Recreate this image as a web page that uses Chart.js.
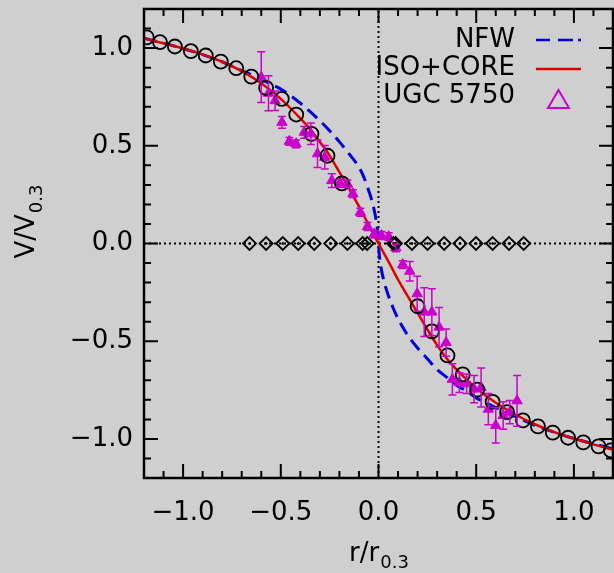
<!DOCTYPE html>
<html>
<head>
<meta charset="utf-8">
<script src="https://cdn.jsdelivr.net/npm/chart.js@4.4.1/dist/chart.umd.min.js"></script>
<style>
html, body { margin: 0; padding: 0; background: #cfcfcf; }
canvas { display: block; }
</style>
</head>
<body>
<canvas id="rotCurve" width="614" height="573"></canvas>
<script>
// ISO+CORE model (red)
var isoX = [-1.2, -1.1, -1.0, -0.9, -0.8, -0.7, -0.6, -0.5, -0.4, -0.35, -0.3, -0.25, -0.2, -0.15, -0.1, -0.05, 0,
            0.05, 0.1, 0.15, 0.2, 0.25, 0.3, 0.35, 0.4, 0.5, 0.6, 0.7, 0.8, 0.9, 1.0, 1.1, 1.2];
var isoY = [1.05, 1.025, 0.998, 0.968, 0.93, 0.882, 0.82, 0.74, 0.64, 0.585, 0.52, 0.45, 0.365, 0.28, 0.19, 0.095, 0,
            -0.09, -0.185, -0.27, -0.355, -0.44, -0.52, -0.59, -0.645, -0.74, -0.815, -0.875, -0.925, -0.965, -0.998, -1.028, -1.055];

// NFW model (blue dashed)
var nfwX = [-1.2, -1.0, -0.8, -0.7, -0.6, -0.55, -0.5, -0.45, -0.4, -0.35, -0.3, -0.25, -0.2, -0.15, -0.1, -0.075, -0.05, -0.03, -0.015, -0.005, 0,
            0.005, 0.015, 0.03, 0.05, 0.075, 0.1, 0.15, 0.2, 0.25, 0.3, 0.35, 0.4, 0.45, 0.5, 0.55, 0.6, 0.7, 0.8, 1.0, 1.2];
var nfwY = [1.05, 0.998, 0.93, 0.885, 0.84, 0.815, 0.79, 0.757, 0.718, 0.675, 0.628, 0.577, 0.52, 0.458, 0.39, 0.34, 0.27, 0.205, 0.135, 0.065, 0,
            -0.07, -0.135, -0.2, -0.265, -0.33, -0.385, -0.47, -0.535, -0.59, -0.645, -0.685, -0.725, -0.755, -0.79, -0.815, -0.84, -0.885, -0.93, -0.998, -1.05];

// model points (open circles)
var circX = [-1.186, -1.118, -1.042, -0.960, -0.884, -0.807, -0.728, -0.651, -0.575, -0.495, -0.421, -0.343, -0.261, -0.187,
             0.200, 0.273, 0.353, 0.431, 0.505, 0.584, 0.658, 0.739, 0.816, 0.892, 0.970, 1.048, 1.126, 1.189];
var circY = [1.055, 1.030, 1.008, 0.984, 0.962, 0.931, 0.897, 0.854, 0.796, 0.740, 0.660, 0.561, 0.449, 0.308,
             -0.321, -0.450, -0.573, -0.670, -0.748, -0.810, -0.863, -0.905, -0.936, -0.968, -0.994, -1.018, -1.038, -1.059];

// UGC 5750 data (triangles) and errors
var ugcX = [-0.600, -0.563, -0.529, -0.494, -0.456, -0.422, -0.380, -0.346, -0.312, -0.275, -0.239, -0.197, -0.159, -0.131,
            -0.093, -0.056, -0.022, 0.015, 0.052, 0.089, 0.124, 0.160, 0.198, 0.234, 0.273, 0.310, 0.346, 0.378,
            0.414, 0.451, 0.489, 0.525, 0.562, 0.600, 0.638, 0.672, 0.709];
var ugcY = [0.851, 0.769, 0.731, 0.620, 0.523, 0.510, 0.569, 0.561, 0.459, 0.441, 0.322, 0.308, 0.305, 0.255,
            0.160, 0.087, 0.048, 0.041, 0.035, -0.022, -0.108, -0.142, -0.257, -0.351, -0.351, -0.428, -0.507, -0.695,
            -0.712, -0.718, -0.745, -0.737, -0.848, -0.931, -0.880, -0.863, -0.805];
var ugcErr = [0.13, 0.09, 0.05, 0.03, 0.02, 0.02, 0.03, 0.055, 0.07, 0.06, 0.035, 0.02, 0.02, 0.02,
              0.02, 0.02, 0.02, 0.02, 0.02, 0.02, 0.02, 0.05, 0.09, 0.125, 0.12, 0.10, 0.07, 0.08,
              0.05, 0.05, 0.07, 0.10, 0.08, 0.09, 0.07, 0.06, 0.13];

// residual markers along zero (diamonds)
var diaX = [-0.660, -0.575, -0.490, -0.411, -0.329, -0.244, -0.159, -0.081, -0.058, 0.076, 0.087,
            0.171, 0.251, 0.336, 0.417, 0.499, 0.584, 0.668, 0.743];

var xTicks = [-1.0, -0.5, 0.0, 0.5, 1.0];
var yTicks = [-1.0, -0.5, 0.0, 0.5, 1.0];
var minorStep = 0.1;

var MAG = '#cc00cc';
var FONT = '"DejaVu Sans", sans-serif';

function pts(xs, ys) {
	return xs.map(function(x, i) { return { x: x, y: ys[i] }; });
}

function fmt(v) {
	return v.toFixed(1).replace('-', '\u2212');
}

function noPad(s) {
	s.paddingLeft = 0; s.paddingRight = 0; s.paddingTop = 0; s.paddingBottom = 0;
}

var idlFrame = {
	id: 'idlFrame',
	afterDraw: function(chart) {
		var ctx = chart.ctx, a = chart.chartArea;
		var xs = chart.scales.x, ys = chart.scales.y;
		ctx.save();
		ctx.strokeStyle = '#000';
		ctx.lineWidth = 2;
		// inward ticks on all four sides
		for (var i = -12; i <= 12; i++) {
			var v = i * minorStep;
			var len = (i % 5 === 0) ? 14 : 7;
			var px = xs.getPixelForValue(v);
			var py = ys.getPixelForValue(v);
			ctx.beginPath();
			ctx.moveTo(px, a.bottom); ctx.lineTo(px, a.bottom - len);
			ctx.moveTo(px, a.top); ctx.lineTo(px, a.top + len);
			ctx.moveTo(a.left, py); ctx.lineTo(a.left + len, py);
			ctx.moveTo(a.right, py); ctx.lineTo(a.right - len, py);
			ctx.stroke();
		}
		ctx.lineWidth = 2.5;
		ctx.strokeRect(a.left, a.top, a.right - a.left, a.bottom - a.top);

		// axis titles with subscripts
		ctx.fillStyle = '#000';
		ctx.textBaseline = 'alphabetic';
		ctx.textAlign = 'left';
		var big = '26px ' + FONT, small = '18px ' + FONT;
		ctx.font = big;
		var w1 = ctx.measureText('r/r').width;
		ctx.font = small;
		var w2 = ctx.measureText('0.3').width;
		var cx = xs.getPixelForValue(0);
		var x0 = cx - (w1 + w2) / 2;
		ctx.font = big;
		ctx.fillText('r/r', x0, 561);
		ctx.font = small;
		ctx.fillText('0.3', x0 + w1 + 1, 568);

		ctx.save();
		ctx.translate(34, 222);
		ctx.rotate(-Math.PI / 2);
		ctx.font = big;
		var v1 = ctx.measureText('V/V').width;
		ctx.font = small;
		var v2 = ctx.measureText('0.3').width;
		var y0 = -(v1 + v2) / 2;
		ctx.font = big;
		ctx.fillText('V/V', y0, 0);
		ctx.font = small;
		ctx.fillText('0.3', y0 + v1 + 1, 8);
		ctx.restore();

		// legend
		ctx.font = big;
		ctx.textAlign = 'right';
		ctx.fillText('NFW', 515, 47);
		ctx.fillText('ISO+CORE', 515, 75);
		ctx.fillText('UGC 5750', 515, 103);
		ctx.lineWidth = 2.5;
		ctx.strokeStyle = '#0000dd';
		ctx.beginPath();
		ctx.moveTo(536, 40); ctx.lineTo(550, 40);
		ctx.moveTo(558, 40); ctx.lineTo(573, 40);
		ctx.moveTo(578, 40); ctx.lineTo(581, 40);
		ctx.stroke();
		ctx.strokeStyle = '#dd0000';
		ctx.beginPath();
		ctx.moveTo(536, 69); ctx.lineTo(581, 69);
		ctx.stroke();
		ctx.strokeStyle = MAG;
		ctx.lineWidth = 2;
		ctx.beginPath();
		ctx.moveTo(558.5, 90); ctx.lineTo(569, 108); ctx.lineTo(548, 108); ctx.closePath();
		ctx.stroke();
		ctx.restore();
	},
	afterDatasetsDraw: function(chart) {
		// error bars for UGC 5750
		var ctx = chart.ctx, xs = chart.scales.x, ys = chart.scales.y;
		ctx.save();
		ctx.strokeStyle = MAG;
		ctx.lineWidth = 1.5;
		ugcX.forEach(function(x, i) {
			var px = xs.getPixelForValue(x);
			var top = ys.getPixelForValue(ugcY[i] + ugcErr[i]);
			var bot = ys.getPixelForValue(ugcY[i] - ugcErr[i]);
			ctx.beginPath();
			ctx.moveTo(px, top); ctx.lineTo(px, bot);
			ctx.moveTo(px - 4, top); ctx.lineTo(px + 4, top);
			ctx.moveTo(px - 4, bot); ctx.lineTo(px + 4, bot);
			ctx.stroke();
		});
		ctx.restore();
	}
};

new Chart(document.getElementById('rotCurve'), {
	type: 'scatter',
	data: {
		datasets: [{
			label: 'dots',
			data: diaX.map(function(x) { return { x: x, y: 0 }; }),
			pointStyle: 'circle',
			pointRadius: 1,
			backgroundColor: '#000',
			borderColor: '#000',
			order: 0
		}, {
			label: 'residuals',
			data: diaX.map(function(x) { return { x: x, y: 0 }; }),
			pointStyle: 'rectRot',
			pointRadius: 6.5,
			backgroundColor: 'rgba(0,0,0,0)',
			borderColor: '#000',
			borderWidth: 1.8,
			order: 1
		}, {
			label: 'model points',
			data: pts(circX, circY),
			pointStyle: 'circle',
			pointRadius: 7,
			backgroundColor: 'rgba(0,0,0,0)',
			borderColor: '#000',
			borderWidth: 1.8,
			order: 2
		}, {
			label: 'UGC 5750',
			data: pts(ugcX, ugcY),
			pointStyle: 'triangle',
			pointRadius: 6,
			backgroundColor: MAG,
			borderColor: MAG,
			borderWidth: 1,
			order: 3
		}, {
			label: 'ISO+CORE',
			data: pts(isoX, isoY),
			showLine: true,
			pointRadius: 0,
			borderColor: '#dd0000',
			borderWidth: 2.5,
			cubicInterpolationMode: 'monotone',
			order: 4
		}, {
			label: 'NFW',
			data: pts(nfwX, nfwY),
			showLine: true,
			pointRadius: 0,
			borderColor: '#0000dd',
			borderWidth: 3,
			borderDash: [13, 7],
			cubicInterpolationMode: 'monotone',
			order: 5
		}, {
			label: 'zero x',
			data: [{ x: 0, y: -1.2 }, { x: 0, y: 1.2 }],
			showLine: true,
			pointRadius: 0,
			borderColor: '#000',
			borderWidth: 2,
			borderDash: [2, 3],
			order: 6
		}, {
			label: 'zero y',
			data: [{ x: -1.2, y: 0 }, { x: 1.2, y: 0 }],
			showLine: true,
			pointRadius: 0,
			borderColor: '#000',
			borderWidth: 2,
			borderDash: [2, 3],
			order: 6
		}]
	},
	options: {
		responsive: false,
		animation: false,
		devicePixelRatio: 1,
		layout: { autoPadding: false, padding: { left: 0, right: 1, top: 9, bottom: 0 } },
		plugins: {
			legend: { display: false },
			tooltip: { enabled: false }
		},
		scales: {
			x: {
				type: 'linear',
				min: -1.2, max: 1.2,
				grid: { display: false, drawTicks: false },
				border: { display: false },
				afterBuildTicks: function(s) { s.ticks = xTicks.map(function(v) { return { value: v }; }); },
				afterFit: function(s) { s.height = 95; noPad(s); },
				ticks: {
					color: '#000',
					font: { family: FONT, size: 26 },
					padding: 20,
					maxRotation: 0,
					autoSkip: false,
					callback: function(v) { return fmt(v); }
				}
			},
			y: {
				type: 'linear',
				min: -1.2, max: 1.2,
				grid: { display: false, drawTicks: false },
				border: { display: false },
				afterBuildTicks: function(s) { s.ticks = yTicks.map(function(v) { return { value: v }; }); },
				afterFit: function(s) { s.width = 144; noPad(s); },
				ticks: {
					color: '#000',
					font: { family: FONT, size: 26 },
					padding: 11,
					autoSkip: false,
					callback: function(v) { return fmt(v); }
				}
			}
		}
	},
	plugins: [idlFrame]
});
</script>
</body>
</html>
